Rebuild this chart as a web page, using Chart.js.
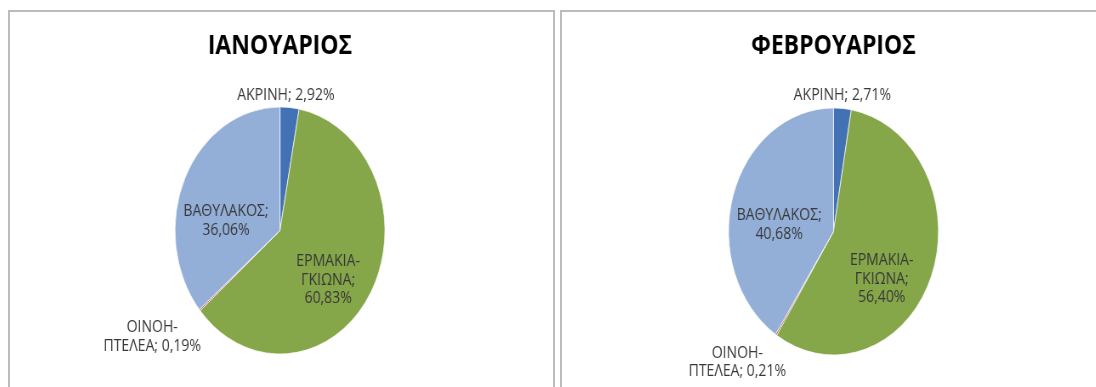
<!DOCTYPE html>
<html>
<head>
<meta charset="utf-8">
<script src="https://cdn.jsdelivr.net/npm/chart.js@4"></script>
<style>
  body { margin: 0; background: #fff; width: 1096px; height: 387px; overflow: hidden; position: relative; }
  .panel { position: absolute; top: 10px; height: 400px; border: 2px solid #bcbcbc; box-sizing: border-box; }
  /* the source picture is squeezed sideways, so the pies are ellipses */
  .wrap { position: absolute; top: 12px; height: 375px; transform-origin: 0 0; transform: scaleX(0.85); }
</style>
</head>
<body>
<div class="panel" style="left:8px;width:547px"></div>
<div class="panel" style="left:560px;width:560px"></div>
<div class="wrap" style="left:10px;width:640px"><canvas id="janChart" width="640" height="375"></canvas></div>
<div class="wrap" style="left:562px;width:628px"><canvas id="febChart" width="628" height="375"></canvas></div>
<script>
const regions = ["ΑΚΡΙΝΗ", "ΕΡΜΑΚΙΑ-ΓΚΙΩΝΑ", "ΟΙΝΟΗ-ΠΤΕΛΕΑ", "ΒΑΘΥΛΑΚΟΣ"];
const janShares = [2.92, 60.83, 0.19, 36.06];
const febShares = [2.71, 56.40, 0.21, 40.68];
const janTitle = "ΙΑΝΟΥΑΡΙΟΣ";
const febTitle = "ΦΕΒΡΟΥΑΡΙΟΣ";

const sliceColors = ['#4372b4', '#86a64a', '#b94a48', '#93afd8'];
const labelBreaks = [[], ['-', ';'], ['-'], [';']];
const fontFamily = "'Open Sans', 'Liberation Sans', sans-serif";

function labelLines(name, value, breaks) {
  let text = name + "; " + value.toFixed(2).replace(".", ",") + "%";
  breaks.forEach(b => { text = text.replace(b, b + "\n"); });
  return text.split("\n").map(s => s.trim());
}

// excel style data labels, placed around each slice's middle angle
const sliceLabels = {
  id: 'sliceLabels',
  afterDatasetsDraw(chart, args, opts) {
    const ctx = chart.ctx;
    const ds = chart.data.datasets[0];
    const meta = chart.getDatasetMeta(0);
    ctx.save();
    ctx.font = opts.size + "px " + fontFamily;
    ctx.fillStyle = opts.color;
    ctx.textAlign = 'center';
    ctx.textBaseline = 'middle';
    meta.data.forEach((arc, i) => {
      const p = arc.getProps(['x', 'y', 'startAngle', 'endAngle', 'outerRadius'], true);
      const a = (p.startAngle + p.endAngle) / 2 + opts.shift[i] * Math.PI / 180;
      const r = p.outerRadius * opts.radius[i];
      const lines = labelLines(chart.data.labels[i], ds.data[i], labelBreaks[i]);
      const x = p.x + Math.cos(a) * r;
      const y0 = p.y + Math.sin(a) * r - (lines.length - 1) * opts.lineHeight / 2;
      lines.forEach((t, k) => ctx.fillText(t, x, y0 + k * opts.lineHeight));
    });
    ctx.restore();
  }
};

function makePie(id, title, shares, pad, titlePad, labelPos) {
  return new Chart(document.getElementById(id), {
    type: 'pie',
    data: {
      labels: regions,
      datasets: [{
        data: shares,
        backgroundColor: sliceColors,
        borderColor: 'rgba(255,255,255,0.7)',
        borderWidth: 1
      }]
    },
    options: {
      responsive: false,
      animation: false,
      layout: { padding: pad },
      plugins: {
        legend: { display: false },
        tooltip: { enabled: false },
        title: {
          display: true,
          text: title,
          color: '#000000',
          font: { family: fontFamily, size: 27, weight: 'bold' },
          padding: titlePad
        },
        sliceLabels: {
          size: 16.5,
          lineHeight: 18.5,
          color: '#383838',
          radius: labelPos.radius,
          shift: labelPos.shift
        }
      }
    },
    plugins: [sliceLabels]
  });
}

const janChart = makePie("janChart", janTitle, janShares,
  { left: 193.6, right: 198.4, top: 0, bottom: 32.5 },
  { top: 17.8, bottom: 44.3 },
  { radius: [1.095, 0.61, 1.49, 0.52], shift: [-2.3, 11.2, 4.9, -16.6] });

const febChart = makePie("febChart", febTitle, febShares,
  { left: 195.4, right: 184.6, top: 0, bottom: 31.5 },
  { top: 17.8, bottom: 45.3 },
  { radius: [1.11, 0.6, 1.40, 0.52], shift: [-0.5, 18.7, 7.7, -11] });
</script>
</body>
</html>
